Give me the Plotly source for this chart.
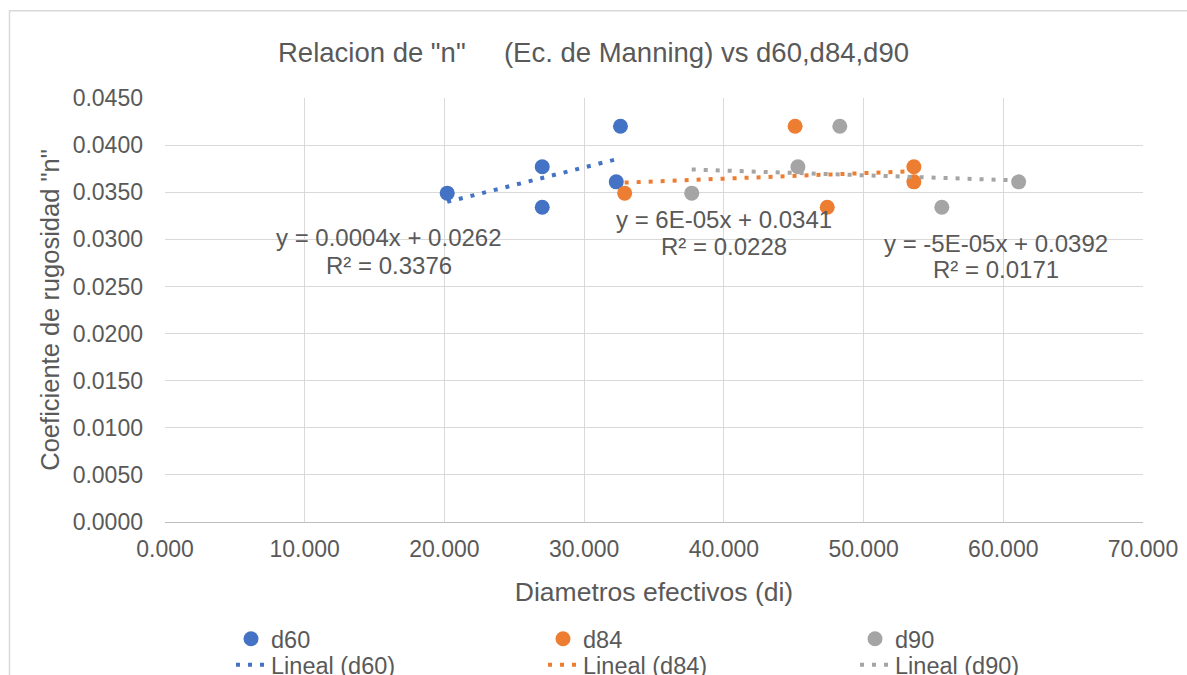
import numpy as np
import plotly.graph_objects as go

# ---- data ----
n_values = [0.0420, 0.0377, 0.0361, 0.0349, 0.0334]
d60 = [32.6, 27.0, 32.3, 20.2, 27.0]
d84 = [45.1, 53.6, 53.6, 32.9, 47.4]
d90 = [48.3, 45.3, 61.1, 37.7, 55.6]
series_names = ["d60", "d84", "d90"]
colors = ["#4472C4", "#ED7D31", "#A5A5A5"]
trend_eq = ["y = 0.0004x + 0.0262", "y = 6E-05x + 0.0341", "y = -5E-05x + 0.0392"]
trend_r2 = ["R² = 0.3376", "R² = 0.0228", "R² = 0.0171"]
x_ticks = [0, 10, 20, 30, 40, 50, 60, 70]
y_ticks = [0.0, 0.005, 0.010, 0.015, 0.020, 0.025, 0.030, 0.035, 0.040, 0.045]

FONT = "Liberation Sans, Arial, sans-serif"
TXT = "#595959"

fig = go.Figure()
all_x = [d60, d84, d90]
for name, xs, c in zip(series_names, all_x, colors):
    fig.add_trace(go.Scatter(x=xs, y=n_values, mode="markers", name=name,
                             marker=dict(color=c, size=15), legend="legend"))
for name, xs, c in zip(series_names, all_x, colors):
    m, b = np.polyfit(xs, n_values, 1)
    xl = [min(xs), max(xs)]
    yl = [m * v + b for v in xl]
    fig.add_trace(go.Scatter(x=xl, y=yl, mode="lines", name=f"Lineal ({name})",
                             line=dict(color=c, width=4, dash="4px,8px"), legend="legend2"))

# trendline label positions (data coords): (x, y of equation line, y of R² line)
label_pos = [(16.03, 0.0302, 0.0272), (40.0, 0.0321, 0.0292), (59.5, 0.0296, 0.02675)]
for (lx, ly1, ly2), eq, r2 in zip(label_pos, trend_eq, trend_r2):
    fig.add_annotation(x=lx, y=ly1, xref="x", yref="y", text=eq, showarrow=False,
                       font=dict(family=FONT, size=24, color=TXT))
    fig.add_annotation(x=lx, y=ly2, xref="x", yref="y", text=r2, showarrow=False,
                       font=dict(family=FONT, size=24, color=TXT))

fig.add_shape(type="rect", xref="paper", yref="paper", x0=-0.159, x1=1.2, y0=-0.5, y1=1.206,
              line=dict(color="#d9d9d9", width=1.5), fillcolor="rgba(0,0,0,0)", layer="below")

legend_common = dict(orientation="h", x=0.0675, xanchor="left", yanchor="top",
                     entrywidth=267, entrywidthmode="pixels",
                     font=dict(size=23.5, color=TXT, family=FONT),
                     bgcolor="rgba(0,0,0,0)", traceorder="normal")

fig.update_layout(
    width=1187, height=675,
    margin=dict(l=165, r=44, t=98, b=153, autoexpand=False),
    paper_bgcolor="white", plot_bgcolor="white",
    font=dict(family=FONT, color=TXT, size=23),
    title=dict(text='Relacion de "n"\u00a0\u00a0\u00a0\u00a0 (Ec. de Manning) vs d60,d84,d90',
               x=0.5, xanchor="center", xref="container",
               y=1 - 52 / 675, yanchor="middle", yref="container",
               font=dict(size=27.5, color=TXT, family=FONT)),
    showlegend=True,
    legend=dict(y=-0.224, **legend_common),
    legend2=dict(y=-0.2853, **legend_common),
    xaxis=dict(range=[0, 70], tickvals=x_ticks, tickformat=".3f",
               showgrid=True, gridcolor="#d9d9d9", gridwidth=1, zeroline=False,
               showline=True, linecolor="#bfbfbf", linewidth=1,
               ticks="", ticklabelstandoff=6,
               tickfont=dict(size=23, color=TXT),
               title=dict(text="Diametros efectivos (di)", standoff=21,
                          font=dict(size=26.5, color=TXT))),
    yaxis=dict(range=[0, 0.045], tickvals=y_ticks, tickformat=".4f",
               showgrid=True, gridcolor="#d9d9d9", gridwidth=1, zeroline=False,
               showline=False, ticks="", ticklabelstandoff=21,
               tickfont=dict(size=23, color=TXT),
               title=dict(text='Coeficiente de rugosidad "n"', standoff=5,
                          font=dict(size=25.5, color=TXT))),
)

fig.write_html("out.html", config={"displayModeBar": False},
               post_script="document.body.style.margin='0';")
